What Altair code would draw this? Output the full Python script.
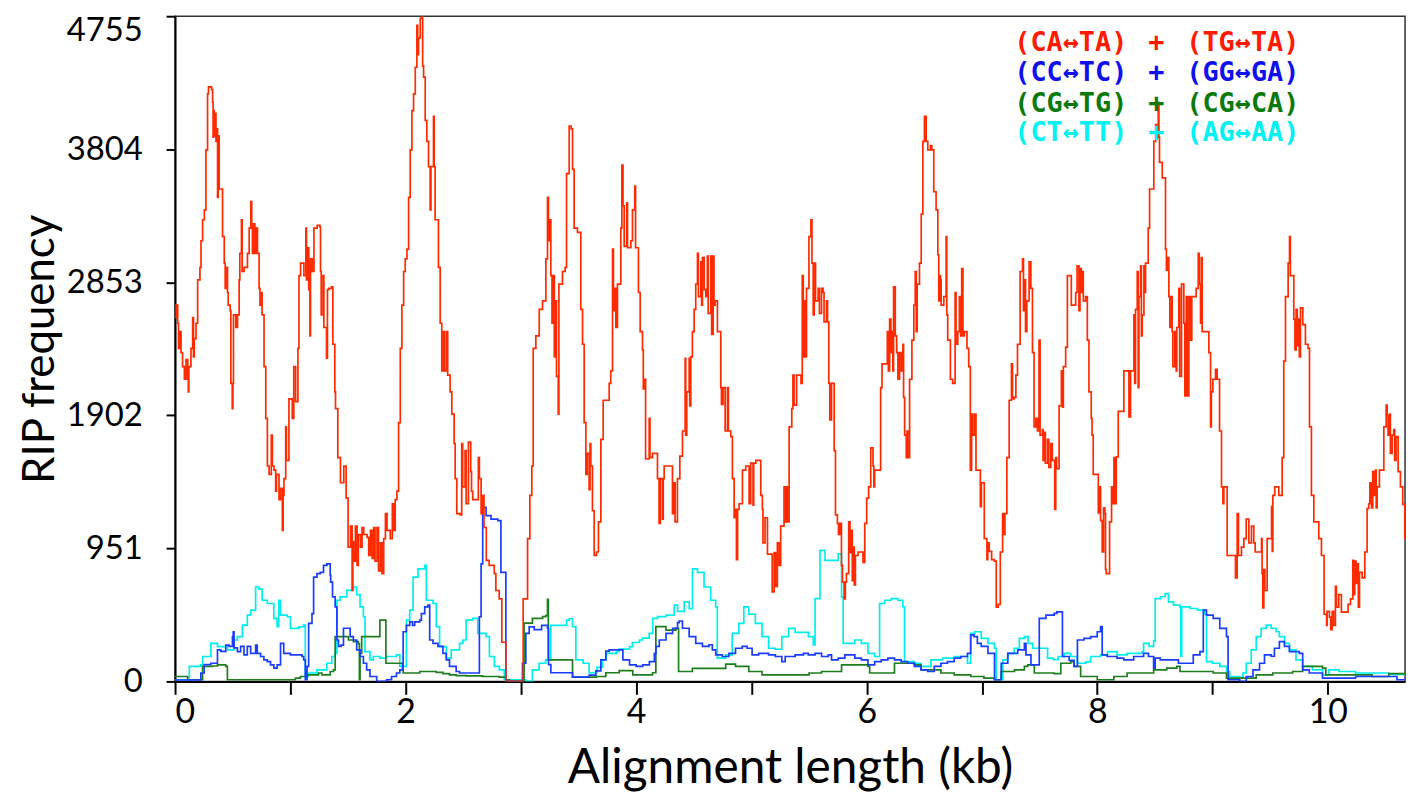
import altair as alt
import pandas as pd

# ---------------- data (kb, RIP frequency), drawn as step lines ----------------
red_steps = [
    (0, 2690), (0.009, 2600), (0.015, 2690), (0.023, 2560), (0.03, 2380), (0.04, 2500), (0.052, 2350),
    (0.065, 2250), (0.081, 2160), (0.095, 2300), (0.11, 2160), (0.115, 2070), (0.12, 2250), (0.138, 2380),
    (0.153, 2600), (0.16, 2320), (0.167, 2450), (0.182, 2560), (0.196, 2870), (0.216, 2960), (0.225, 3150),
    (0.239, 3300), (0.254, 3370), (0.268, 3800), (0.282, 4200), (0.29, 4250), (0.317, 4230), (0.326, 4140),
    (0.33, 3890), (0.335, 4080), (0.34, 3900), (0.348, 4060), (0.355, 3860), (0.363, 3950), (0.369, 3460),
    (0.375, 3900), (0.383, 3520), (0.398, 3520), (0.412, 3180), (0.427, 2990), (0.435, 2810), (0.45, 2960),
    (0.455, 2780), (0.461, 2690), (0.478, 2650), (0.484, 2130), (0.496, 1950), (0.502, 2130), (0.507, 2620),
    (0.527, 2530), (0.542, 2620), (0.556, 2870), (0.562, 3060), (0.576, 3300), (0.582, 2930), (0.599, 2960),
    (0.628, 3060), (0.643, 3240), (0.657, 3430), (0.665, 3270), (0.671, 3060), (0.685, 3270), (0.692, 3060),
    (0.705, 3240), (0.715, 3060), (0.729, 2810), (0.737, 2690), (0.744, 2780), (0.755, 2620), (0.772, 2250),
    (0.787, 1880), (0.801, 1540), (0.816, 1480), (0.835, 1760), (0.844, 1540), (0.859, 1510), (0.873, 1360),
    (0.88, 1480), (0.902, 1300), (0.915, 1380), (0.931, 1080), (0.938, 1330), (0.945, 1450), (0.96, 1820),
    (0.966, 1580), (0.988, 2020), (1.017, 1880), (1.03, 2250), (1.046, 2000), (1.066, 2380), (1.075, 2900),
    (1.089, 2990), (1.118, 2900), (1.135, 3240), (1.14, 2870), (1.147, 3100), (1.16, 2800), (1.17, 2470),
    (1.175, 3020), (1.19, 2930), (1.205, 3240), (1.233, 3260), (1.256, 3250), (1.262, 2930), (1.268, 2620),
    (1.275, 2900), (1.291, 2530), (1.314, 2310), (1.322, 2800), (1.334, 2810), (1.357, 2820), (1.369, 2410),
    (1.386, 2070), (1.392, 1950), (1.412, 1600), (1.435, 1420), (1.464, 1540), (1.484, 1310), (1.501, 960),
    (1.522, 1110), (1.536, 650), (1.542, 1000), (1.55, 860), (1.565, 1110), (1.579, 830), (1.59, 1050),
    (1.608, 960), (1.622, 1100), (1.637, 1050), (1.666, 1030), (1.68, 900), (1.695, 1080), (1.71, 880),
    (1.723, 1100), (1.735, 860), (1.752, 1100), (1.765, 790), (1.781, 990), (1.795, 770), (1.81, 1020),
    (1.825, 1200), (1.839, 1080), (1.867, 1020), (1.885, 1270), (1.896, 1080), (1.91, 1300), (1.925, 1360),
    (1.939, 1850), (1.954, 2380), (1.968, 2690), (1.983, 2930), (1.997, 3020), (2.012, 3090), (2.026, 3460),
    (2.04, 3800), (2.055, 4080), (2.069, 4200), (2.084, 4390), (2.098, 4690), (2.105, 4480), (2.112, 4600),
    (2.127, 4740), (2.141, 4755), (2.148, 4400), (2.156, 4320), (2.17, 4010), (2.184, 3860), (2.199, 3680),
    (2.213, 3370), (2.22, 3680), (2.242, 4040), (2.248, 3680), (2.256, 3300), (2.285, 2960), (2.3, 2560),
    (2.314, 2220), (2.329, 2500), (2.34, 2220), (2.357, 2500), (2.365, 2190), (2.386, 2070), (2.401, 1910),
    (2.421, 1700), (2.43, 1450), (2.444, 1200), (2.473, 1190), (2.487, 1700), (2.495, 1390), (2.516, 1650),
    (2.525, 1270), (2.545, 1710), (2.565, 1500), (2.572, 1360), (2.582, 1300), (2.631, 1600), (2.64, 1450),
    (2.655, 1200), (2.668, 1330), (2.68, 1100), (2.70, 865), (2.725, 830), (2.769, 770), (2.783, 650),
    (2.812, 590), (2.835, 280), (2.870, 0), (3.02, 590), (3.058, 1020), (3.078, 1330), (3.095, 1540),
    (3.107, 2380), (3.130, 2470), (3.159, 2660), (3.188, 2720), (3.217, 3020), (3.231, 3460), (3.24, 3150),
    (3.246, 3300), (3.260, 2900), (3.27, 2560), (3.280, 2900), (3.29, 2320), (3.298, 2720), (3.309, 2180),
    (3.324, 1910), (3.33, 2840), (3.361, 2930), (3.384, 2960), (3.396, 3630), (3.419, 3970), (3.436, 3950),
    (3.448, 3660), (3.462, 3240), (3.491, 3210), (3.520, 2660), (3.535, 2410), (3.549, 1850), (3.564, 1480),
    (3.575, 1630), (3.592, 1370), (3.60, 1700), (3.607, 1540), (3.621, 1220), (3.636, 900), (3.656, 925),
    (3.673, 1140), (3.694, 1730), (3.714, 2010), (3.766, 2130), (3.780, 2220), (3.795, 3090), (3.803, 2650),
    (3.815, 2810), (3.824, 2530), (3.838, 2840), (3.867, 3240), (3.876, 3690), (3.886, 3400), (3.896, 3110),
    (3.918, 3420), (3.925, 3100), (3.954, 3150), (3.968, 3370), (3.988, 3540), (3.995, 3100), (4.020, 2780),
    (4.035, 2500), (4.055, 2370), (4.062, 2090), (4.075, 2160), (4.082, 1590), (4.113, 1880), (4.12, 1600),
    (4.142, 1630), (4.185, 1450), (4.199, 1130), (4.21, 1450), (4.228, 1160), (4.235, 1450), (4.243, 1540),
    (4.315, 1200), (4.325, 1420), (4.338, 1140), (4.358, 1450), (4.379, 1610), (4.402, 1790), (4.425, 2310),
    (4.43, 1760), (4.439, 2070), (4.460, 2310), (4.465, 1970), (4.474, 2320), (4.488, 2500), (4.503, 2660),
    (4.517, 2840), (4.532, 3060), (4.54, 2750), (4.561, 3000), (4.568, 2690), (4.575, 3030), (4.59, 2800),
    (4.604, 2750), (4.618, 3040), (4.625, 2630), (4.647, 3040), (4.655, 2480), (4.668, 3040), (4.675, 2690),
    (4.685, 2720), (4.705, 2500), (4.734, 2100), (4.74, 1980), (4.754, 2100), (4.772, 1790), (4.792, 2100),
    (4.80, 1790), (4.821, 1750), (4.835, 1450), (4.850, 1170), (4.864, 1230), (4.87, 870), (4.88, 1230),
    (4.893, 1270), (4.922, 1510), (4.951, 1540), (4.98, 1270), (4.994, 1560), (5.014, 1260), (5.02, 1560),
    (5.038, 1580), (5.081, 1330), (5.095, 1230), (5.10, 990), (5.118, 1170), (5.139, 910), (5.18, 640),
    (5.197, 920), (5.21, 680), (5.225, 990), (5.24, 830), (5.254, 1110), (5.283, 1390), (5.292, 1140),
    (5.30, 1390), (5.312, 1140), (5.327, 1820), (5.350, 1950), (5.360, 2190), (5.370, 1975), (5.392, 2190),
    (5.43, 2130), (5.441, 2900), (5.45, 2320), (5.458, 2720), (5.468, 2320), (5.478, 2810), (5.499, 3180),
    (5.516, 3300), (5.525, 2990), (5.536, 2620), (5.545, 2990), (5.556, 2720), (5.579, 2810), (5.59, 2630),
    (5.608, 2810), (5.622, 2780), (5.63, 2570), (5.651, 2720), (5.66, 2570), (5.671, 2130), (5.68, 1870),
    (5.695, 2130), (5.718, 1650), (5.729, 1190), (5.746, 1130), (5.755, 1050), (5.767, 1130), (5.781, 830),
    (5.79, 710), (5.804, 590), (5.815, 710), (5.824, 770), (5.844, 1140), (5.855, 920), (5.867, 1080),
    (5.875, 720), (5.882, 960), (5.892, 690), (5.902, 900), (5.925, 925), (5.968, 850), (5.983, 1130),
    (6.0, 1310), (6.017, 1390), (6.035, 1670), (6.055, 1540), (6.062, 1390), (6.069, 1510), (6.121, 2100),
    (6.133, 2270), (6.179, 2500), (6.188, 2220), (6.199, 2590), (6.21, 2350), (6.219, 2500), (6.227, 2220),
    (6.233, 2820), (6.248, 2470), (6.26, 2350), (6.271, 2160), (6.285, 2350), (6.3, 2220), (6.314, 2410),
    (6.32, 2030), (6.329, 1760), (6.343, 1600), (6.35, 1790), (6.357, 1600), (6.372, 2160), (6.392, 2440),
    (6.409, 2690), (6.421, 2930), (6.43, 2500), (6.438, 2840), (6.458, 2990), (6.473, 3340), (6.487, 3860),
    (6.501, 4040), (6.516, 3860), (6.53, 3800), (6.553, 3830), (6.565, 3800), (6.582, 3500), (6.602, 3370),
    (6.617, 3050), (6.625, 2720), (6.631, 2900), (6.64, 2870), (6.646, 2690), (6.669, 2750), (6.689, 3180),
    (6.695, 2620), (6.703, 2440), (6.726, 2160), (6.746, 2130), (6.767, 2780), (6.775, 2410), (6.790, 2500),
    (6.804, 2750), (6.815, 2470), (6.824, 2950), (6.835, 2470), (6.847, 2500), (6.870, 2380), (6.885, 2250),
    (6.899, 1510), (6.91, 1910), (6.919, 1760), (6.935, 1910), (6.948, 1510), (6.986, 1250), (6.995, 1420),
    (7.020, 1020), (7.043, 870), (7.05, 990), (7.063, 930), (7.084, 870), (7.107, 860), (7.124, 530),
    (7.141, 550), (7.159, 925), (7.179, 1200), (7.19, 1050), (7.199, 1200), (7.216, 1600), (7.236, 2010),
    (7.256, 2270), (7.265, 2020), (7.280, 2030), (7.294, 2190), (7.308, 2410), (7.331, 2930), (7.352, 3020),
    (7.36, 2650), (7.366, 2870), (7.378, 2500), (7.389, 2720), (7.409, 3000), (7.424, 2810), (7.438, 2350),
    (7.452, 1820), (7.467, 1880), (7.481, 1790), (7.495, 2440), (7.504, 1760), (7.524, 1800), (7.53, 1580),
    (7.539, 1780), (7.55, 1560), (7.568, 1730), (7.58, 1530), (7.597, 1700), (7.61, 1580), (7.631, 1230),
    (7.64, 1600), (7.648, 1520), (7.669, 1970), (7.689, 2220), (7.70, 1960), (7.706, 2250), (7.726, 2390),
    (7.741, 2900), (7.775, 2690), (7.813, 2780), (7.825, 2970), (7.841, 2650), (7.85, 2950), (7.862, 2780),
    (7.87, 2930), (7.879, 2720), (7.899, 2750), (7.914, 2440), (7.928, 2070), (7.948, 1880), (7.955, 1760),
    (7.965, 1480), (8.009, 1205), (8.023, 1390), (8.029, 1150), (8.043, 925), (8.055, 1240), (8.066, 1200),
    (8.072, 800), (8.078, 770), (8.107, 1140), (8.124, 1390), (8.135, 1270), (8.145, 1600), (8.155, 1270),
    (8.165, 1605), (8.182, 1930), (8.231, 2220), (8.275, 1890), (8.289, 2220), (8.318, 2620), (8.325, 2130),
    (8.332, 2660), (8.347, 2930), (8.355, 2100), (8.361, 2750), (8.376, 2970), (8.383, 2470), (8.390, 2620),
    (8.405, 2970), (8.412, 2780), (8.419, 2990), (8.442, 3240), (8.454, 3520), (8.491, 3860), (8.506, 3980),
    (8.52, 3890), (8.529, 4140), (8.535, 3890), (8.540, 3710), (8.564, 3600), (8.592, 3090), (8.60, 2940),
    (8.607, 3030), (8.621, 2750), (8.63, 2530), (8.645, 2750), (8.65, 2500), (8.656, 2250), (8.673, 2500),
    (8.685, 2220), (8.69, 2530), (8.708, 2810), (8.715, 2180), (8.731, 2840), (8.751, 2560), (8.76, 2040),
    (8.772, 2750), (8.78, 2040), (8.795, 2750), (8.809, 2440), (8.82, 2750), (8.858, 2810), (8.876, 3060),
    (8.885, 2840), (8.896, 2560), (8.903, 3030), (8.91, 2500), (8.968, 2350), (8.983, 1820), (8.99, 2070),
    (9.003, 2160), (9.026, 2230), (9.040, 2160), (9.061, 1790), (9.078, 1390), (9.09, 1270), (9.098, 1390),
    (9.127, 900), (9.199, 740), (9.214, 1200), (9.225, 900), (9.251, 960), (9.272, 1020), (9.292, 1160),
    (9.315, 990), (9.338, 1110), (9.358, 990), (9.37, 925), (9.425, 1020), (9.43, 770), (9.436, 525),
    (9.445, 800), (9.454, 650), (9.474, 1020), (9.512, 1250), (9.518, 930), (9.523, 1330), (9.540, 1390),
    (9.575, 1330), (9.604, 1600), (9.618, 2290), (9.633, 2750), (9.656, 2990), (9.668, 3180), (9.675, 2900),
    (9.705, 2590), (9.715, 2370), (9.725, 2660), (9.735, 2400), (9.743, 2590), (9.753, 2320), (9.763, 2670),
    (9.783, 2550), (9.806, 2410), (9.829, 2380), (9.841, 1820), (9.858, 1330), (9.879, 1140), (9.922, 1020),
    (9.945, 900), (9.968, 480), (9.99, 400), (9.994, 500), (10.014, 460), (10.025, 370), (10.038, 500),
    (10.05, 400), (10.066, 680), (10.075, 530), (10.095, 620), (10.118, 495), (10.176, 550), (10.197, 590),
    (10.217, 865), (10.225, 620), (10.234, 860), (10.245, 700), (10.254, 840), (10.265, 530), (10.275, 780),
    (10.298, 740), (10.321, 925), (10.341, 1235), (10.355, 1270), (10.365, 1420), (10.379, 1240),
    (10.39, 1500), (10.399, 1330), (10.413, 1510), (10.42, 1240), (10.428, 1390), (10.448, 1510),
    (10.486, 1820), (10.506, 1975), (10.515, 1900), (10.523, 1760), (10.535, 1910), (10.543, 1630),
    (10.558, 1760), (10.572, 1800), (10.58, 1580), (10.592, 1750), (10.610, 1500), (10.630, 1390),
    (10.650, 1265), (10.668, 1020),
]

blue_steps = [
    (0, 10), (0.224, 60), (0.253, 120), (0.311, 130), (0.368, 225), (0.397, 215), (0.44, 260), (0.47, 250),
    (0.498, 320), (0.505, 355), (0.512, 240), (0.541, 213), (0.569, 250), (0.598, 190), (0.627, 250),
    (0.656, 200), (0.699, 260), (0.713, 200), (0.742, 178), (0.771, 154), (0.8, 142), (0.828, 118),
    (0.857, 95), (0.886, 118), (0.915, 272), (0.943, 200), (1.001, 190), (1.102, 178), (1.116, 154),
    (1.13, 12), (1.145, 107), (1.159, 415), (1.188, 485), (1.202, 746), (1.231, 770), (1.26, 780),
    (1.288, 830), (1.317, 840), (1.346, 760), (1.35, 710), (1.366, 604), (1.389, 533), (1.404, 296),
    (1.418, 250), (1.44, 260), (1.461, 380), (1.519, 320), (1.547, 296), (1.576, 225), (1.605, 178),
    (1.634, 130), (1.662, 83), (1.691, 35), (1.749, 0), (1.835, 12), (1.878, 35), (1.921, 60), (1.95, 83),
    (1.973, 130), (1.979, 355), (2.007, 400), (2.036, 426), (2.06, 400), (2.079, 426), (2.123, 438),
    (2.137, 485), (2.166, 533), (2.194, 545), (2.209, 296), (2.238, 272), (2.281, 250), (2.324, 200),
    (2.353, 154), (2.381, 107), (2.439, 71), (2.468, 60), (2.64, 462), (2.655, 840), (2.669, 1245),
    (2.698, 1185), (2.741, 1160), (2.80, 1150), (2.827, 780), (2.87, 0), (3.014, 130), (3.043, 343),
    (3.072, 390), (3.116, 370), (3.18, 400), (3.231, 380), (3.24, 120), (3.26, 62), (3.448, 31), (3.592, 45),
    (3.65, 75), (3.694, 154), (3.737, 216), (3.766, 225), (3.885, 154), (3.943, 118), (4.0, 107),
    (4.057, 118), (4.115, 142), (4.158, 200), (4.172, 250), (4.201, 296), (4.259, 343), (4.316, 379),
    (4.359, 420), (4.373, 432), (4.402, 380), (4.46, 320), (4.517, 272), (4.575, 250), (4.632, 262),
    (4.661, 225), (4.69, 190), (4.747, 178), (4.805, 200), (4.862, 237), (4.92, 250), (4.963, 237),
    (5.006, 190), (5.063, 200), (5.149, 190), (5.207, 178), (5.264, 142), (5.293, 178), (5.379, 190),
    (5.451, 200), (5.494, 190), (5.552, 200), (5.609, 178), (5.667, 190), (5.695, 154), (5.753, 166),
    (5.81, 190), (5.897, 166), (5.954, 154), (6.011, 118), (6.069, 142), (6.126, 154), (6.184, 166),
    (6.241, 154), (6.299, 142), (6.356, 130), (6.414, 107), (6.471, 83), (6.529, 71), (6.586, 107),
    (6.644, 130), (6.701, 142), (6.759, 166), (6.816, 178), (6.874, 200), (6.902, 332), (6.931, 320),
    (6.96, 272), (6.994, 250), (7.052, 200), (7.109, 12), (7.167, 130), (7.224, 200), (7.31, 225),
    (7.368, 272), (7.382, 190), (7.425, 118), (7.497, 450), (7.555, 474), (7.626, 486), (7.65, 497),
    (7.698, 178), (7.756, 150), (7.799, 107), (7.828, 296), (7.885, 308), (7.943, 320), (8.0, 355),
    (8.029, 391), (8.043, 190), (8.086, 178), (8.172, 166), (8.23, 154), (8.316, 178), (8.402, 200),
    (8.445, 178), (8.489, 95), (8.503, 166), (8.546, 154), (8.704, 130), (8.833, 190), (8.891, 213),
    (8.92, 510), (8.948, 474), (9.006, 450), (9.063, 379), (9.121, 320), (9.135, 12), (9.236, 0),
    (9.293, 35), (9.351, 83), (9.408, 130), (9.451, 190), (9.509, 180), (9.537, 237), (9.58, 284),
    (9.624, 250), (9.667, 213), (9.753, 200), (9.782, 83), (9.839, 60), (9.954, 24), (10.241, 35),
    (10.529, 35), (10.6, 12), (10.67, 12),
]

green_steps = [
    (0, 35), (0.109, 12), (0.239, 107), (0.325, 110), (0.368, 118), (0.44, 107), (0.454, 12), (1.044, 24),
    (1.087, 35), (1.145, 47), (1.245, 60), (1.274, 47), (1.346, 71), (1.375, 83), (1.389, 320), (1.504, 296),
    (1.547, 284), (1.59, 270), (1.599, 12), (1.605, 200), (1.619, 320), (1.777, 438), (1.829, 130),
    (1.979, 60), (2.123, 71), (2.266, 64), (2.324, 55), (2.381, 47), (2.439, 42), (2.525, 40), (2.669, 35),
    (2.813, 30), (2.87, 12), (2.899, 0), (3.028, 417), (3.1, 450), (3.188, 463), (3.215, 470), (3.231, 587),
    (3.238, 154), (3.448, 31), (3.655, 35), (3.737, 62), (3.853, 77), (3.971, 47), (4.142, 62), (4.171, 391),
    (4.259, 367), (4.345, 379), (4.368, 71), (4.488, 93), (4.777, 123), (4.862, 107), (4.977, 71),
    (5.092, 47), (5.5, 60), (5.609, 71), (5.782, 118), (6.011, 107), (6.026, 60), (6.241, 130), (6.414, 118),
    (6.471, 83), (6.644, 60), (6.759, 47), (6.902, 35), (7.017, 24), (7.109, 12), (7.167, 71), (7.282, 83),
    (7.368, 107), (7.397, 118), (7.454, 60), (7.626, 55), (7.684, 130), (7.77, 142), (7.799, 107),
    (7.856, 35), (8.0, 12), (8.144, 35), (8.259, 60), (8.489, 83), (8.603, 95), (8.69, 107), (8.718, 71),
    (9.006, 60), (9.121, 24), (9.379, 47), (9.523, 60), (9.695, 71), (9.782, 107), (9.954, 95), (9.983, 47),
    (10.385, 35), (10.529, 55), (10.67, 47),
]

cyan_steps = [
    (0, 12), (0.124, 107), (0.224, 118), (0.239, 178), (0.311, 272), (0.368, 249), (0.454, 225), (0.512, 296),
    (0.541, 320), (0.584, 403), (0.627, 474), (0.656, 509), (0.699, 675), (0.728, 660), (0.756, 580),
    (0.8, 557), (0.857, 450), (0.886, 391), (0.9, 580), (0.915, 474), (0.972, 462), (1.001, 379),
    (1.073, 390), (1.116, 403), (1.13, 35), (1.159, 60), (1.231, 83), (1.317, 130), (1.36, 178),
    (1.389, 201), (1.404, 580), (1.432, 604), (1.49, 651), (1.547, 675), (1.576, 620), (1.605, 533),
    (1.634, 462), (1.648, 213), (1.691, 154), (1.72, 178), (1.777, 166), (1.835, 178), (1.921, 190),
    (1.95, 107), (2.007, 438), (2.036, 509), (2.065, 746), (2.108, 805), (2.166, 829), (2.18, 580),
    (2.238, 557), (2.266, 391), (2.295, 249), (2.353, 166), (2.396, 225), (2.468, 272), (2.497, 296),
    (2.525, 438), (2.583, 450), (2.626, 343), (2.698, 320), (2.727, 178), (2.77, 107), (2.813, 83),
    (2.856, 12), (3.043, 0), (3.1, 83), (3.158, 130), (3.215, 154), (3.26, 400), (3.397, 438), (3.419, 448),
    (3.448, 391), (3.477, 154), (3.54, 130), (3.592, 62), (3.66, 100), (3.708, 154), (3.741, 201),
    (3.828, 213), (3.853, 231), (3.943, 249), (3.968, 278), (4.029, 296), (4.055, 309), (4.113, 343),
    (4.144, 450), (4.185, 463), (4.259, 474), (4.33, 545), (4.36, 500), (4.417, 569), (4.46, 520),
    (4.489, 805), (4.532, 780), (4.589, 675), (4.647, 580), (4.69, 533), (4.704, 166), (4.776, 190),
    (4.833, 343), (4.891, 415), (4.934, 533), (4.977, 480), (5.034, 415), (5.092, 320), (5.149, 237),
    (5.207, 230), (5.264, 320), (5.322, 379), (5.379, 350), (5.494, 320), (5.537, 261), (5.552, 592),
    (5.595, 936), (5.638, 865), (5.753, 912), (5.782, 604), (5.796, 272), (5.897, 296), (5.954, 272),
    (6.011, 201), (6.069, 178), (6.112, 557), (6.155, 580), (6.213, 592), (6.27, 580), (6.313, 533),
    (6.328, 142), (6.414, 130), (6.471, 107), (6.557, 154), (6.66, 166), (6.759, 178), (6.874, 130),
    (6.902, 343), (6.937, 355), (6.994, 308), (7.052, 272), (7.109, 237), (7.124, 12), (7.181, 154),
    (7.224, 201), (7.28, 237), (7.325, 308), (7.368, 320), (7.4, 272), (7.44, 237), (7.569, 166),
    (7.62, 155), (7.66, 178), (7.713, 201), (7.77, 178), (7.828, 130), (7.9, 140), (7.943, 178),
    (8.029, 190), (8.09, 213), (8.172, 190), (8.259, 201), (8.388, 213), (8.402, 272), (8.45, 250),
    (8.489, 290), (8.503, 592), (8.55, 605), (8.589, 628), (8.618, 569), (8.661, 545), (8.718, 533),
    (8.724, 178), (8.733, 533), (8.805, 521), (8.87, 510), (8.934, 480), (8.948, 142), (9.0, 130),
    (9.063, 107), (9.121, 71), (9.149, 35), (9.236, 24), (9.264, 60), (9.293, 130), (9.336, 225),
    (9.379, 320), (9.422, 379), (9.466, 403), (9.509, 380), (9.552, 355), (9.58, 320), (9.624, 272),
    (9.667, 225), (9.724, 154), (9.782, 107), (9.868, 83), (9.954, 47), (10.01, 83), (10.098, 71),
    (10.241, 60), (10.529, 50), (10.67, 60),
]

y_ticks = [0, 951, 1902, 2853, 3804, 4755]
x_ticks = [0, 1, 2, 3, 4, 5, 6, 7, 8, 9, 10]
x_max = 10.67

legend_left = ["(CA↔TA)", "(CC↔TC)", "(CG↔TG)", "(CT↔TT)"]
legend_right = ["(TG↔TA)", "(GG↔GA)", "(CG↔CA)", "(AG↔AA)"]
legend_colors = ["#ff1a00", "#1010ee", "#0b7a0b", "#00f2f2"]
line_colors = ["#ff2a00", "#1a3cff", "#1e7e1e", "#00eeee"]

W, H = 1237, 669
FONT = "Lato"

x_scale = alt.Scale(domain=[0, x_max], nice=False, zero=False)
y_scale = alt.Scale(domain=[0, 4755], nice=False, zero=False)

x_axis = alt.Axis(
    values=x_ticks,
    labelExpr="datum.value % 2 == 0 ? datum.label : ''",
    title="Alignment length (kb)",
    grid=False, tickSize=13, tickWidth=2, tickColor="black",
    domainColor="black", domainWidth=2,
    labelFont=FONT, labelFontSize=34, labelColor="black", labelPadding=1,
    titleFont=FONT, titleFontSize=48, titleFontWeight="normal", titleColor="black",
    titleY=102, titleBaseline="alphabetic",
)
y_axis = alt.Axis(
    values=y_ticks, format="d",
    title="RIP frequency",
    grid=False, tickSize=9, tickWidth=2, tickColor="black",
    domainColor="black", domainWidth=2,
    labelFont=FONT, labelFontSize=33, labelColor="black", labelPadding=24,
    labelOffset={"condition": {"test": "datum.value == 4755", "value": 14}, "value": 0},
    titleFont=FONT, titleFontSize=44, titleFontWeight="normal", titleColor="black",
    titleX=-122, titleBaseline="alphabetic", titleAlign="center", titleAngle=-90,
)


def steps(pairs):
    return pd.DataFrame({"kb": [p[0] for p in pairs], "freq": [p[1] for p in pairs]})


def line(pairs, color):
    return alt.Chart(steps(pairs)).mark_line(
        interpolate="step-after", color=color, strokeWidth=1.7, clip=True
    ).encode(
        x=alt.X("kb:Q", scale=x_scale, axis=x_axis),
        y=alt.Y("freq:Q", scale=y_scale, axis=y_axis),
    )


layers = [
    line(cyan_steps, line_colors[3]),
    line(green_steps, line_colors[2]),
    line(blue_steps, line_colors[1]),
    line(red_steps, line_colors[0]),
]

row_y = [27, 57, 88, 118]
for i in range(4):
    df = pd.DataFrame({"l": [legend_left[i]], "r": [legend_right[i]], "p": ["+"]})
    base = alt.Chart(df)
    common = dict(font="DejaVu Sans Mono", fontSize=27, fontWeight="bold",
                  color=legend_colors[i], baseline="middle")
    layers.append(base.mark_text(align="left", **common).encode(
        text="l:N", x=alt.value(844), y=alt.value(row_y[i])))
    layers.append(base.mark_text(align="center", **common).encode(
        text="p:N", x=alt.value(987), y=alt.value(row_y[i])))
    layers.append(base.mark_text(align="left", **common).encode(
        text="r:N", x=alt.value(1017), y=alt.value(row_y[i])))

chart = alt.layer(*layers).properties(
    width=W, height=H,
    autosize=alt.AutoSizeParams(type="none"),
    padding={"left": 168, "top": 6, "right": 5, "bottom": 115},
    background="white",
).configure_view(stroke="#333333", strokeWidth=1.5)

chart.save("out.html", embed_options={"renderer": "svg", "actions": False})
